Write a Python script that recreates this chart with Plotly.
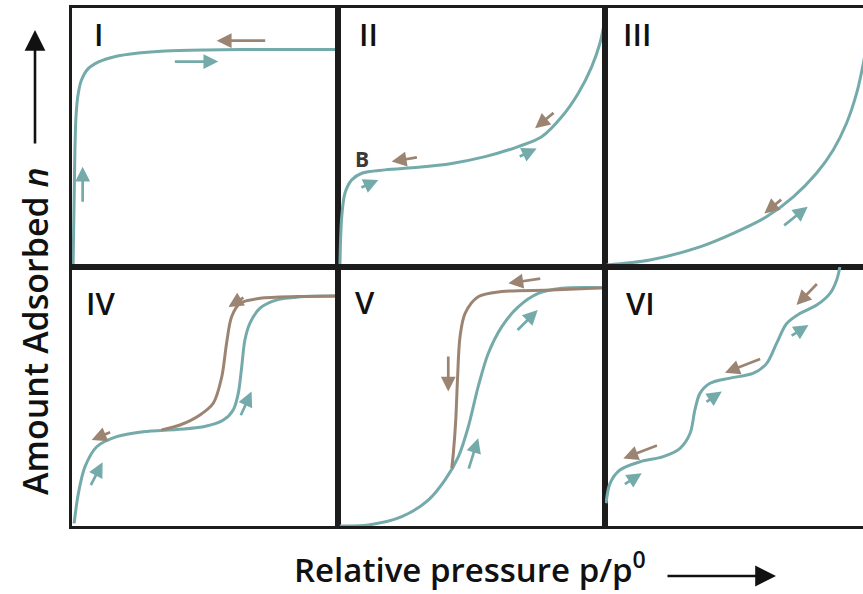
import plotly.graph_objects as go
from plotly.subplots import make_subplots

TEAL = "#74aaaa"
BROWN = "#9c8473"

# ---- data: normalised (p/p0, n), per panel ----
I_x = [0.004, 0.008, 0.011, 0.015, 0.022, 0.035, 0.06, 0.10, 0.16, 0.25, 0.35, 0.50, 0.75, 1.0]
I_y = [0.0, 0.259, 0.452, 0.58, 0.66, 0.72, 0.765, 0.792, 0.812, 0.826, 0.834, 0.838, 0.840, 0.840]

II_x = [0.007, 0.014, 0.026, 0.051, 0.089, 0.176, 0.301, 0.426, 0.551, 0.675, 0.763, 0.838, 0.900, 0.950, 0.981, 0.996]
II_y = [0.0, 0.194, 0.285, 0.336, 0.362, 0.375, 0.385, 0.400, 0.426, 0.465, 0.503, 0.580, 0.671, 0.773, 0.864, 0.934]

III_x = [0.006, 0.169, 0.357, 0.482, 0.607, 0.708, 0.795, 0.858, 0.908, 0.946, 0.971, 0.99]
III_y = [0.008, 0.027, 0.078, 0.130, 0.194, 0.271, 0.362, 0.452, 0.555, 0.671, 0.786, 0.90]

IV_ads_x = [0.008, 0.024, 0.049, 0.093, 0.168, 0.268, 0.394, 0.494, 0.569, 0.606, 0.625, 0.638, 0.650, 0.669, 0.707, 0.770, 0.857, 1.0]
IV_ads_y = [0.010, 0.126, 0.229, 0.306, 0.345, 0.364, 0.373, 0.383, 0.409, 0.448, 0.512, 0.615, 0.718, 0.783, 0.841, 0.873, 0.885, 0.888]
IV_des_x = [1.0, 0.85, 0.707, 0.632, 0.600, 0.581, 0.563, 0.531, 0.481, 0.406, 0.337]
IV_des_y = [0.888, 0.886, 0.879, 0.860, 0.808, 0.705, 0.576, 0.474, 0.429, 0.390, 0.371]

V_ads_x = [0.007, 0.114, 0.239, 0.338, 0.401, 0.451, 0.488, 0.525, 0.563, 0.613, 0.675, 0.750, 0.838, 1.0]
V_ads_y = [0.0, 0.004, 0.036, 0.100, 0.178, 0.268, 0.383, 0.538, 0.667, 0.769, 0.846, 0.898, 0.918, 0.920]
V_des_x = [1.0, 0.800, 0.613, 0.525, 0.476, 0.457, 0.448, 0.441, 0.432, 0.426]
V_des_y = [0.920, 0.911, 0.905, 0.885, 0.821, 0.731, 0.577, 0.409, 0.281, 0.223]

VI_x = [0.004, 0.019, 0.056, 0.132, 0.219, 0.282, 0.320, 0.338, 0.357, 0.395, 0.470, 0.558, 0.608, 0.645, 0.683, 0.733, 0.796, 0.846, 0.871, 0.883]
VI_y = [0.088, 0.165, 0.216, 0.248, 0.268, 0.300, 0.358, 0.448, 0.512, 0.551, 0.571, 0.590, 0.628, 0.705, 0.782, 0.821, 0.853, 0.898, 0.950, 1.0]

labels = ["I", "II", "III", "IV", "V", "VI"]
label_x = [0.10, 0.116, 0.122, 0.109, 0.101, 0.132]
label_y = [0.90, 0.90, 0.90, 0.861, 0.865, 0.861]

# direction arrows: (panel, x_tail, y_tail, x_head, y_head, colour)
arrows = [
    (1, 0.732, 0.874, 0.544, 0.874, BROWN),
    (1, 0.381, 0.793, 0.550, 0.793, TEAL),
    (1, 0.040, 0.246, 0.040, 0.387, TEAL),
    (2, 0.301, 0.424, 0.201, 0.407, BROWN),
    (2, 0.082, 0.304, 0.151, 0.336, TEAL),
    (2, 0.675, 0.424, 0.744, 0.458, TEAL),
    (2, 0.813, 0.600, 0.738, 0.536, BROWN),
    (3, 0.668, 0.265, 0.599, 0.207, BROWN),
    (3, 0.668, 0.156, 0.762, 0.233, TEAL),
    (4, 0.650, 0.885, 0.588, 0.846, BROWN),
    (4, 0.632, 0.422, 0.675, 0.519, TEAL),
    (4, 0.149, 0.364, 0.074, 0.332, BROWN),
    (4, 0.068, 0.152, 0.115, 0.246, TEAL),
    (5, 0.763, 0.956, 0.638, 0.937, BROWN),
    (5, 0.667, 0.751, 0.748, 0.834, TEAL),
    (5, 0.413, 0.660, 0.413, 0.519, BROWN),
    (5, 0.488, 0.216, 0.525, 0.339, TEAL),
    (6, 0.802, 0.940, 0.720, 0.853, BROWN),
    (6, 0.696, 0.731, 0.765, 0.776, TEAL),
    (6, 0.589, 0.647, 0.451, 0.592, BROWN),
    (6, 0.376, 0.475, 0.439, 0.519, TEAL),
    (6, 0.201, 0.313, 0.069, 0.261, BROWN),
    (6, 0.069, 0.158, 0.138, 0.204, TEAL),
]

fig = make_subplots(rows=2, cols=3, horizontal_spacing=0, vertical_spacing=0,
                    column_widths=[266, 267, 258])

def add_line(x, y, color, r, c):
    fig.add_trace(go.Scatter(x=x, y=y, mode="lines",
                             line=dict(color=color, width=3, shape="spline", smoothing=0.9),
                             hoverinfo="skip", showlegend=False), row=r, col=c)

add_line(I_x, I_y, TEAL, 1, 1)
add_line(II_x, II_y, TEAL, 1, 2)
add_line(III_x, III_y, TEAL, 1, 3)
add_line(IV_ads_x, IV_ads_y, TEAL, 2, 1)
add_line(IV_des_x, IV_des_y, BROWN, 2, 1)
add_line(V_ads_x, V_ads_y, TEAL, 2, 2)
add_line(V_des_x, V_des_y, BROWN, 2, 2)
add_line(VI_x, VI_y, TEAL, 2, 3)

FONT = "'Open Sans', Lato, sans-serif"

for i in range(6):
    r, c = i // 3 + 1, i % 3 + 1
    xr = [0, 258 / 266] if c == 3 else [0, 1]
    fig.update_xaxes(range=xr, showgrid=False, zeroline=False, showticklabels=False, ticks="",
                     showline=True, mirror=True, linewidth=3, linecolor="#1c1c1c", row=r, col=c)
    fig.update_yaxes(range=[0, 1], showgrid=False, zeroline=False, showticklabels=False, ticks="",
                     showline=True, mirror=(c != 3), linewidth=3, linecolor="#1c1c1c", row=r, col=c)

def axref(p):
    return ("x" if p == 1 else f"x{p}"), ("y" if p == 1 else f"y{p}")

for i, lab in enumerate(labels):
    xa, ya = axref(i + 1)
    fig.add_annotation(x=label_x[i], y=label_y[i], xref=xa, yref=ya, text=lab, showarrow=False,
                       xanchor="center", yanchor="middle",
                       font=dict(family=FONT, size=31, color="#111111", weight=600))

xa, ya = axref(2)
fig.add_annotation(x=0.089, y=0.417, xref=xa, yref=ya, text="<b>B</b>", showarrow=False,
                   font=dict(family=FONT, size=21, color="#3a3a3a"))

for p, xt, yt, xh, yh, col in arrows:
    xa, ya = axref(p)
    fig.add_annotation(x=xh, y=yh, ax=xt, ay=yt, xref=xa, yref=ya, axref=xa, ayref=ya,
                       text="", showarrow=True, arrowhead=2, arrowsize=1.1, arrowwidth=2.7,
                       arrowcolor=col, standoff=0, startstandoff=0)

# axis titles with arrows
fig.add_annotation(x=(35 - 72) / 791, y=(526 - 331) / 518, xref="paper", yref="paper",
                   text="Amount Adsorbed <i>n</i>", textangle=-90, showarrow=False,
                   xanchor="center", yanchor="middle",
                   font=dict(family=FONT, size=34, color="#111111", weight=600))
fig.add_annotation(x=(35 - 72) / 791, y=(526 - 30) / 518, xref="paper", yref="paper",
                   ax=0, ay=115, text="", showarrow=True, arrowhead=2, arrowsize=1.6,
                   arrowwidth=2.6, arrowcolor="#111111", standoff=0)
fig.add_annotation(x=(470 - 72) / 791, y=(526 - 567) / 518, xref="paper", yref="paper",
                   text="Relative pressure p/p<sup>0</sup>", showarrow=False,
                   xanchor="center", yanchor="middle",
                   font=dict(family=FONT, size=33, color="#111111", weight=600))
fig.add_annotation(x=(776 - 72) / 791, y=(526 - 576) / 518, xref="paper", yref="paper",
                   ax=-110, ay=0, text="", showarrow=True, arrowhead=2, arrowsize=1.6,
                   arrowwidth=2.6, arrowcolor="#111111", standoff=0)

fig.update_layout(width=863, height=594, margin=dict(l=72, r=0, t=8, b=68),
                  paper_bgcolor="white", plot_bgcolor="white", showlegend=False)

fig.write_html("out.html")
